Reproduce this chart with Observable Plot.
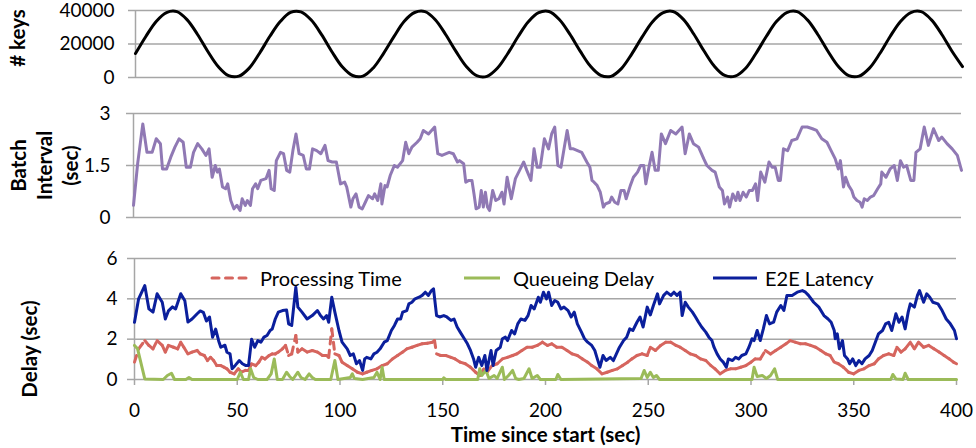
<!DOCTYPE html>
<html><head><meta charset="utf-8">
<script src="https://cdn.jsdelivr.net/npm/d3@7"></script>
<script src="https://cdn.jsdelivr.net/npm/@observablehq/plot@0.6"></script>
<style>
body{margin:0;background:#fff;}
#wrap{position:relative;width:976px;height:448px;background:#fff;font-family:Lato,"Open Sans",sans-serif;overflow:hidden;}
.panel{position:absolute;left:0;}
.leg{position:absolute;top:266px;height:24px;line-height:24px;font-size:20px;color:#000;white-space:nowrap;}
.leg svg{position:absolute;top:0;}
</style></head><body><div id="wrap"></div>
<script>
// ---------- data ----------
const keysTime = d3.range(0, 405, 5);
const keysCount = [
  14300, 24500, 33500, 38800, 39300, 34400, 25700, 15500, 6500, 1100, 800, 5600,
  14500, 24600, 33400, 38900, 39200, 34300, 25600, 15400, 6400, 1200, 800, 5700,
  14400, 24400, 33600, 38800, 39300, 34500, 25700, 15600, 6600, 1100, 700, 5500,
  14200, 24300, 33300, 38700, 39400, 34600, 26000, 15900, 6800, 1300, 700, 5300,
  14000, 24100, 33200, 38600, 39400, 34700, 26000, 15800, 6700, 1200, 800, 5400,
  14200, 24300, 33400, 38800, 39300, 34400, 25700, 15500, 6500, 1100, 800, 5600,
  14300, 24500, 33500, 38800, 39300, 34400, 25700, 15500, 6500
];
const keysTicks = [0, 20000, 40000];

const batchTime = [0,2,4.5,6.5,9,11,13,14,16,18,20,22,24,25.5,27.5,29,31,33,35,36.5,38,39.5,40.5,41.5,43,44.5,45.5,47,48.5,50,51.5,52.5,54,55,56.5,57.5,59,60,61.5,64,65.5,66.5,68,69,71,72.5,74,75.5,77,78.5,80,82,83.5,85,86.5,88.5,90.5,92.5,94,96,98,100,102,103,105,106,107.5,109,110.5,112,113.5,115.5,116.5,118,119.5,120,121.5,122.5,124,126,127.5,130,131.5,133,134.5,137,138.5,140,142.5,145.5,147,149,152.5,154.5,156.5,157.5,159.5,160.5,162,163.5,164.5,165.5,167,168,169,170,171,172,173.5,175,176.5,178,179,180.5,182.5,184.5,186.5,188.5,190,192,193.5,195,196.5,198.5,200.5,202,203.5,205,206.5,208,209.5,211,212.5,214.5,216.5,219,220.5,221.5,222.5,224,225.5,227,228,230,231,232.5,234,235.5,237,238,240,241.5,243.5,245,246.5,247.5,249,250.5,252,253.5,255,257,259.5,262,265,266.5,268.5,270.5,273,275.5,277,279.5,281,283,284.5,285.5,287,288,289.5,291,292,293,294.5,296,297.5,299,300.5,301.5,303,305,307,308.5,310,311.5,312.5,314,316,318,320.5,323,325.5,328,330,332.5,335,337,339,340.5,341.5,343,344,345.5,347,348,349.5,351,352,353,354.5,356,357.5,359.5,361,361.5,363.5,365.5,367.5,369,370.5,372,373.5,375.5,377,378,380,382,384,386.5,389,390.5,393,395.5,398,400];
const batchSec = [0.35,1.55,2.7,1.88,1.88,2.27,2.13,1.4,1.4,1.74,2.03,2.27,2.17,1.45,1.45,1.88,2.13,1.98,1.79,1.98,1.16,1.5,1.31,1.4,0.88,0.83,0.97,0.49,0.25,0.35,0.2,0.54,0.35,0.49,0.35,0.83,0.97,0.83,1.07,1.12,1.36,0.83,0.78,1.64,1.88,1.84,1.36,1.31,1.93,2.41,1.84,1.79,1.4,1.4,1.98,1.93,1.84,2.08,1.64,1.6,1.6,0.97,1.02,0.88,0.3,0.54,0.68,0.3,0.25,0.44,0.63,0.54,0.68,0.49,0.97,0.39,0.92,0.88,1.21,1.5,1.45,1.64,2.17,1.84,2.03,2.17,2.27,2.51,2.41,2.61,1.84,1.79,1.88,1.84,1.6,1.64,1.55,1.02,1.07,1.07,0.68,0.25,0.3,0.78,0.3,0.73,0.3,0.2,0.78,0.49,0.54,0.73,0.39,1.16,0.54,1.12,1.36,1.6,1.36,1.07,1.98,1.45,1.45,2.27,1.98,2.41,2.61,1.5,1.45,1.98,2.51,1.98,1.98,1.93,1.88,1.6,1.45,1.07,1.02,0.92,0.73,0.3,0.39,0.44,0.59,0.44,0.39,0.78,0.78,0.54,0.92,1.16,1.31,1.5,1.5,0.97,1.45,1.88,1.36,1.36,2.41,2.13,2.51,2.41,2.61,1.84,2.41,2.13,2.03,1.69,1.5,1.36,1.31,0.88,0.78,0.39,0.59,0.3,0.68,0.49,0.73,0.49,0.73,0.59,0.78,0.78,0.97,0.49,1.31,1.02,1.6,1.45,1.45,1.07,1.07,1.98,1.93,2.22,2.27,2.61,2.61,2.56,2.51,2.27,2.17,1.93,1.69,1.4,1.64,0.88,1.16,0.92,0.78,0.59,0.49,0.44,0.3,0.54,0.49,0.59,0.63,0.83,0.97,1.31,1.16,1.4,1.5,1.07,1.64,1.45,1.5,1.07,1.07,1.88,1.98,2.61,2.08,2.56,2.22,2.32,2.13,1.98,1.79,1.36];
const batchTicks = [0, 1.5, 3];

const procTime = [0,2,5,7,9,11,13.5,15,16.5,19,21,22.5,24,26,28,30.5,32,34,35.5,37,38.5,40,42,43.5,45,46.5,48.5,50.5,52,54,55.5,57,59,60.5,62,63.5,65.5,67,68.5,70,72,73.5,75,76.5,78.5,79.5,81.5,84,86.5,89,91.5,93.5,94.5,96,97.5,99.5,101,103.5,106,108.5,111,113,115.5,118,120.5,123,125.5,128,130.5,132.5,135,137.5,140,142.5,145,146,147,149,151.5,154,156,158.5,161,163.5,166,168,170,171.5,174,176.5,179,181.5,184,186,188.5,191,193.5,196,198.5,201,203,205.5,208,210.5,213,215.5,218,220.5,222.5,225,227.5,230,232.5,235,237.5,240,242,244.5,247,249.5,251,253.5,256,258.5,261,263.5,265.5,268,270.5,273,275.5,278,280.5,282.5,285,287.5,290,292.5,295,297.5,300,302,304.5,307,309.5,312,314.5,317,319,321.5,324,326.5,329,331.5,334,336.5,338.5,340.5,342.5,345,347.5,350,352.5,355,357.5,360,362,364.5,367,369.5,371,373,375,377.5,379.5,381.5,384,386.5,389,391.5,394,396.5,398.5,400];
const procSec = [0.86,1.52,1.93,1.69,1.52,1.93,1.69,1.36,1.69,1.6,1.52,1.85,1.6,1.27,1.36,1.44,1.27,1.19,0.94,1.1,0.94,0.69,0.69,0.61,0.53,0.36,0.28,0.53,0.36,0.45,0.45,0.78,0.69,0.86,1.1,1.02,1.19,1.27,1.27,1.36,1.52,1.69,1.19,1.27,2.18,1.36,1.52,1.36,1.44,1.36,1.19,1.19,1.1,2.51,1.27,1.19,0.86,0.69,0.53,0.36,0.28,0.36,0.45,0.53,0.69,0.78,1.02,1.19,1.36,1.52,1.6,1.69,1.77,1.8,1.85,1.93,1.27,1.19,1.19,1.1,1.02,0.86,0.78,0.61,0.36,0.2,0.53,0.36,0.69,0.78,1.02,1.1,1.19,1.27,1.44,1.6,1.6,1.69,1.85,1.69,1.77,1.6,1.6,1.44,1.27,1.19,1.02,0.86,0.69,0.53,0.28,0.36,0.45,0.53,0.69,0.86,1.02,1.19,1.27,1.19,1.6,1.44,1.69,1.85,1.85,1.69,1.6,1.44,1.27,1.19,1.02,0.94,0.69,0.53,0.28,0.45,0.53,0.53,0.61,0.69,0.86,1.02,1.02,1.44,1.27,1.44,1.6,1.77,1.93,1.85,1.77,1.77,1.69,1.6,1.44,1.27,1.19,0.86,0.78,0.61,0.36,0.28,0.45,0.53,0.69,0.78,1.02,1.19,1.27,1.19,1.6,1.36,1.52,1.85,1.52,1.85,1.6,1.69,1.52,1.36,1.19,1.02,0.86,0.78];

const queueTime = [0,1.5,5,14,16,18,19.5,25,26.5,28,50,51.5,53,55.5,56.5,58,60,64.5,66.5,68,69.5,72,74,75.5,77,79.5,81,83,85,86.5,88,95.5,97.5,99,105,106,107,111,116.5,118,119.5,120.5,121.5,150,150.5,151.5,167,168,169,171,172.5,175,176.5,179,180,182,184,185.5,187,189.5,192,193.5,196,197.5,205,206,207.5,246.5,248,249.5,251,252.5,254,255.5,300.5,301.5,303,305.5,307.5,309.5,311.5,313,368,369,370.5,374,375,376.5,400];
const queueSec = [1.69,1.52,0.03,0,0.2,0.31,0,0,0.1,0,0,0.36,0,0,0.53,0.1,0,0,0.28,1.02,0,0,0.36,0.15,0,0.36,0.1,0,0.28,0.1,0,0,0.94,0,0.1,0.28,0.05,0,0.1,0.36,0,0.61,0,0,0.08,0,0,0.53,0.2,0.45,0.05,0.2,0.05,0.61,0,0.2,0.45,0.05,0,0.05,0.53,0.05,0.2,0,0,0.25,0,0.05,0.45,0.1,0.36,0.1,0.2,0,0,0.61,0.15,0.2,0.05,0.2,0.53,0,0,0.25,0.03,0,0.31,0,0];

const e2eTime = [0,2,5,7,9,11,13.5,15,16.5,18.5,20,22.5,24.5,26,28,30.5,32,33.5,35,36.5,38,39.5,41,42,44,45,46.5,47.5,49,51,52.5,54,55.5,57,58.5,60,61.5,63,64.5,66,67,68.5,70,72,74,75,76.5,78.5,79.5,81.5,84,86.5,89,90.5,92,93.5,94.5,96,97.5,99.5,101,103.5,105,106.5,108,109.5,111,112,113,115,116.5,118,119.5,121.5,123,125,126.5,128,129.5,130.5,132.5,133.5,135,136.5,138.5,140,141.5,143,144.5,145.5,147,148.5,150.5,152,154,155.5,157,158.5,160.5,162,163.5,165,166,167.5,169,170.5,171.5,173.5,174.5,176,178,179,180.5,181.5,183.5,185,186.5,188,190,191.5,193,194.5,196.5,197.5,199,200.5,201.5,203,204.5,206,207.5,209,211,212.5,214,215.5,217.5,219,220.5,222.5,224,225,226.5,228,229.5,231.5,233,234.5,236,238,239.5,241,242.5,244.5,246,247.5,249.5,251,252.5,254.5,255.5,257.5,259,261,262.5,264,265.5,266.5,268,269.5,271.5,273,274.5,276,278,279.5,281,282,283.5,285,286.5,288,289,291,292.5,294,295.5,297.5,299,300.5,301.5,303,304.5,306,307.5,309,311,312.5,314.5,316,317.5,320,322.5,325,326.5,328,330.5,333,335.5,337.5,339,340.5,341,342,343,344.5,345.5,347,348,349.5,351,352.5,354,355.5,357.5,359,360.5,362,364,365.5,367,368.5,370.5,372,373.5,375,376.5,377.5,379.5,381,382,384,385.5,387,388.5,391,393,395,397,399,400];
const e2eSec = [2.84,4.0,4.66,3.5,3.34,4.25,3.83,3.0,3.4,3.6,3.5,4.25,3.9,2.85,3.0,3.26,3.4,3.33,2.9,3.1,2.1,2.5,1.9,1.6,1.7,1.35,1.27,0.53,0.7,0.94,0.78,0.7,0.7,2.0,1.6,1.93,1.85,2.1,2.18,2.43,2.5,3.0,3.34,3.42,3.45,2.76,2.68,4.58,3.59,3.34,3.0,3.17,3.42,3.17,3.0,3.17,2.84,4.08,3.34,2.43,1.85,1.52,1.19,1.27,0.78,0.94,0.45,1.02,1.1,1.02,1.27,1.35,1.52,1.85,1.93,2.43,2.68,3.0,3.0,3.34,3.42,3.75,3.83,4.0,4.08,4.17,4.33,4.17,4.41,4.5,3.17,3.1,3.17,3.1,2.93,3.0,2.6,2.35,2.02,1.77,1.44,1.02,0.61,1.1,0.69,1.19,0.45,1.44,0.69,1.44,1.6,2.02,2.1,1.93,2.43,2.26,2.76,3.0,2.93,3.17,3.67,3.5,4.08,3.83,4.33,4.0,4.33,3.67,3.92,3.83,3.5,3.59,3.42,3.1,3.34,2.76,2.35,2.02,1.85,1.69,1.44,1.1,0.61,1.19,0.94,1.1,0.94,1.27,1.6,1.93,2.1,2.51,2.43,2.84,3.1,2.6,3.59,3.2,3.67,4.25,3.75,4.17,4.33,4.17,4.33,4.17,4.33,3.17,3.83,3.59,3.34,3.1,2.84,2.6,2.35,2.1,1.93,1.6,1.27,1.02,0.86,0.61,1.02,0.94,1.1,1.02,1.19,1.27,1.6,2.02,1.93,2.43,1.93,2.51,3.17,2.76,2.84,3.34,3.67,3.42,4.17,4.17,4.33,4.41,4.33,4.17,3.83,3.59,3.17,3.0,2.84,2.43,2.02,2.26,1.52,1.93,1.19,1.02,0.78,1.02,0.69,0.94,0.78,1.02,1.19,1.44,1.85,2.26,2.43,2.76,2.84,2.43,3.26,2.84,3.1,2.51,3.34,3.75,3.59,4.17,4.41,3.83,4.25,4.08,3.83,3.75,3.42,3.0,2.76,2.43,2.02];
const delayTicks = [0, 2, 4, 6];
const timeTicks = [0, 50, 100, 150, 200, 250, 300, 350, 400];
const seriesNames = ["Processing Time", "Queueing Delay", "E2E Latency"];

// ---------- style ----------
const FONT = 'Lato, "Open Sans", sans-serif';
const GRID = "#a6a6a6";
const PURPLE = "#9079b4", RED = "#d6655e", GREEN = "#9bbb59", BLUE = "#0b1f9c";
const DASH = "7,6.5";
const wrap = document.getElementById("wrap");
const baseStyle = {fontFamily: FONT, fontSize: "19px", background: "transparent", color: "#000", overflow: "visible"};

function place(svg, top) {
  const d = document.createElement("div");
  d.className = "panel"; d.style.top = top + "px";
  d.appendChild(svg); wrap.appendChild(d);
}

// ---------- top: # keys ----------
place(Plot.plot({
  width: 976, height: 90, marginTop: 10, marginBottom: 13, marginLeft: 135, marginRight: 14,
  style: baseStyle,
  x: {domain: [0, 400], axis: null},
  y: {domain: [0, 40000]},
  marks: [
    Plot.gridY(keysTicks, {stroke: GRID, strokeOpacity: 1, strokeWidth: 1.5}),
    Plot.axisY(keysTicks, {tickSize: 7, tickPadding: 14, stroke: GRID, strokeWidth: 1.5, fill: "#000", label: null, tickFormat: d => String(d)}),
    Plot.ruleX([0], {stroke: GRID, strokeWidth: 1.5}),
    Plot.line(keysCount, {x: keysTime, y: keysCount, stroke: "#000", strokeWidth: 3, curve: "catmull-rom"}),
    Plot.text(["# keys"], {frameAnchor: "left", textAnchor: "middle", lineAnchor: "middle", dx: -117, dy: -6, rotate: -90, fontWeight: "bold", fontSize: 20.5, fill: "#000"})
  ]
}), 0);

// ---------- middle: batch interval ----------
place(Plot.plot({
  width: 976, height: 130, marginTop: 13, marginBottom: 13, marginLeft: 133, marginRight: 15,
  style: baseStyle,
  x: {domain: [0, 400], axis: null},
  y: {domain: [0, 3]},
  marks: [
    Plot.gridY(batchTicks, {stroke: GRID, strokeOpacity: 1, strokeWidth: 1.5}),
    Plot.axisY(batchTicks, {tickSize: 7, tickPadding: 16, stroke: GRID, strokeWidth: 1.5, fill: "#000", label: null, tickFormat: d => String(d)}),
    Plot.ruleX([0], {stroke: GRID, strokeWidth: 1.5}),
    Plot.line(batchSec, {x: batchTime, y: batchSec, stroke: PURPLE, strokeWidth: 3, strokeLinejoin: "round"}),
    Plot.text(["Batch\nInterval\n(sec)"], {frameAnchor: "left", textAnchor: "middle", lineAnchor: "middle", dx: -90, dy: 0, rotate: -90, lineHeight: 1.26, fontWeight: "bold", fontSize: 20.5, fill: "#000"})
  ]
}), 100);

// ---------- bottom: delays ----------
const segIdx = d3.range(procTime.length - 1);
place(Plot.plot({
  width: 976, height: 208, marginTop: 18, marginBottom: 69, marginLeft: 134, marginRight: 20,
  style: baseStyle,
  x: {domain: [0, 400]},
  y: {domain: [0, 6]},
  marks: [
    Plot.gridY(delayTicks, {stroke: GRID, strokeOpacity: 1, strokeWidth: 1.5}),
    Plot.axisY(delayTicks, {tickSize: 7, tickPadding: 10, stroke: GRID, strokeWidth: 1.5, fill: "#000", label: null, tickFormat: d => String(d)}),
    Plot.axisX(timeTicks, {tickSize: 6, tickPadding: 18, stroke: GRID, strokeWidth: 1.5, fill: "#000", label: null, tickFormat: d => String(d)}),
    Plot.ruleX([0], {stroke: GRID, strokeWidth: 1.5}),
    Plot.link(segIdx, {x1: i => procTime[i], y1: i => procSec[i], x2: i => procTime[i + 1], y2: i => procSec[i + 1],
      stroke: RED, strokeWidth: 3, strokeDasharray: DASH, strokeLinecap: "round"}),
    Plot.line(queueSec, {x: queueTime, y: queueSec, stroke: GREEN, strokeWidth: 3, strokeLinejoin: "round"}),
    Plot.line(e2eSec, {x: e2eTime, y: e2eSec, stroke: BLUE, strokeWidth: 3, strokeLinejoin: "round"}),
    Plot.text(["Delay (sec)"], {frameAnchor: "left", textAnchor: "middle", lineAnchor: "middle", dx: -104, dy: 30, rotate: -90, fontWeight: "bold", fontSize: 20.5, fill: "#000"}),
    Plot.text(["Time since start (sec)"], {frameAnchor: "bottom", textAnchor: "middle", lineAnchor: "middle", dy: 56, fontWeight: "bold", fontSize: 20.5, fill: "#000"})
  ]
}), 240);

// ---------- legend (overlay) ----------
const legItems = [
  {name: seriesNames[0], color: RED, dash: DASH, x: 210, w: 38, tx: 260},
  {name: seriesNames[1], color: GREEN, dash: null, x: 464, w: 36, tx: 513},
  {name: seriesNames[2], color: BLUE, dash: null, x: 713, w: 44, tx: 765}
];
for (const it of legItems) {
  const sw = document.createElement("div");
  sw.className = "leg"; sw.style.left = it.x + "px"; sw.style.width = it.w + "px";
  sw.innerHTML = `<svg width="${it.w}" height="24"><line x1="${it.dash ? 2 : 0}" x2="${it.w}" y1="12" y2="12" stroke="${it.color}" stroke-width="3" ${it.dash ? `stroke-dasharray="${it.dash}" stroke-linecap="round"` : ""}/></svg>`;
  wrap.appendChild(sw);
  const tx = document.createElement("div");
  tx.className = "leg"; tx.style.left = it.tx + "px"; tx.textContent = it.name;
  wrap.appendChild(tx);
}
</script>
</body></html>
